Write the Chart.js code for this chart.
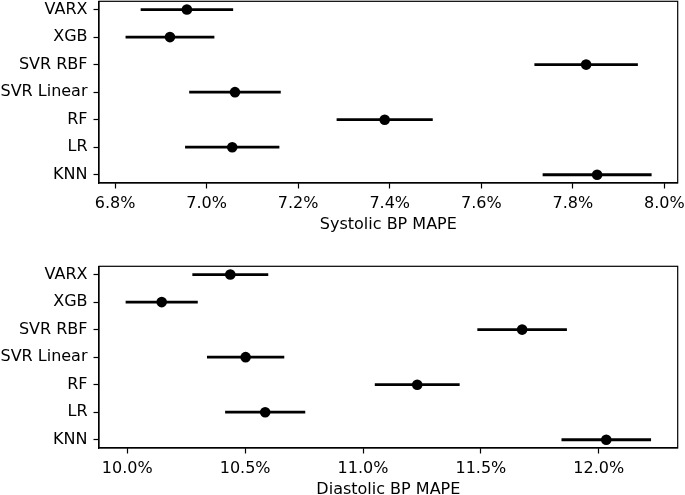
<!DOCTYPE html>
<html><head><meta charset="utf-8">
<script src="https://cdn.jsdelivr.net/npm/chart.js@4.4.1/dist/chart.umd.min.js"></script>
<style>
html,body{margin:0;padding:0;background:#fff;overflow:hidden;width:685px;height:495px;position:relative;}
.wrap{position:absolute;left:0;width:685px;height:250px;}
#w1{top:-4px;} #w2{top:261px;}
</style>
</head><body>
<div class="wrap" id="w1"><canvas id="c1"></canvas></div>
<div class="wrap" id="w2"><canvas id="c2"></canvas></div>
<script>
const categories = ['VARX','XGB','SVR RBF','SVR Linear','RF','LR','KNN'];
const systolicMAPE = [6.957, 6.920, 7.829, 7.062, 7.389, 7.056, 7.853];
const systolicErr  = [0.101, 0.097, 0.113, 0.100, 0.105, 0.103, 0.119];
const diastolicMAPE = [10.437, 10.146, 11.675, 10.502, 11.230, 10.585, 12.032];
const diastolicErr  = [0.161, 0.153, 0.190, 0.164, 0.180, 0.170, 0.190];
const systolicTicks = [6.8, 7.0, 7.2, 7.4, 7.6, 7.8, 8.0];
const diastolicTicks = [10.0, 10.5, 11.0, 11.5, 12.0];

const FONT = {family:'DejaVu Sans', size:16};

const frame = {
  id:'frame',
  afterDatasetsDraw(chart){
    const a = chart.chartArea, ctx = chart.ctx;
    ctx.save();
    ctx.strokeStyle = '#000';
    ctx.lineWidth = 1.2;
    ctx.strokeRect(a.left, a.top, a.right - a.left, a.bottom - a.top);
    ctx.restore();
  }
};

function makeChart(id, values, errs, ticks, xmin, xmax, title){
  const errSets = categories.map((c,i)=>({
    type:'scatter', showLine:true,
    data:[{x:values[i]-errs[i], y:i},{x:values[i]+errs[i], y:i}],
    borderColor:'#000', backgroundColor:'#000', borderWidth:2.8,
    pointRadius:0, pointHoverRadius:0, order:1
  }));
  const dots = {
    type:'scatter',
    data:categories.map((c,i)=>({x:values[i], y:i})),
    backgroundColor:'#000', borderColor:'#000',
    pointRadius:5.3, pointBorderWidth:0, pointHoverRadius:5.3, order:0
  };
  return new Chart(document.getElementById(id), {
    type:'scatter',
    data:{datasets:[dots, ...errSets]},
    options:{
      responsive:true, maintainAspectRatio:false, animation:false,
      events:[],
      layout:{padding:{left:0, right:7.3, top:1, bottom:0}},
      plugins:{legend:{display:false}, tooltip:{enabled:false}},
      scales:{
        x:{
          type:'linear', min:xmin, max:xmax,
          afterBuildTicks:s=>{ s.ticks = ticks.map(v=>({value:v})); },
          afterFit:s=>{ s.height = 63; s.paddingLeft = 0; s.paddingRight = 0; },
          ticks:{callback:v=>Number(v).toFixed(1)+'%', font:FONT, color:'#000', padding:5.5, maxRotation:0, autoSkip:false},
          grid:{display:true, drawOnChartArea:false, drawTicks:true, tickLength:5.5, tickColor:'#000', tickWidth:1.2},
          border:{display:true, color:'#000', width:1.2},
          title:{display:true, text:title, font:{family:'DejaVu Sans', size:16, lineHeight:1.2}, color:'#000', padding:{top:0, bottom:12}}
        },
        y:{
          type:'linear', reverse:true, min:-0.3, max:6.3,
          afterBuildTicks:s=>{ s.ticks = categories.map((c,i)=>({value:i})); },
          afterFit:s=>{ s.width = 99; s.paddingTop = 0; s.paddingBottom = 0; },
          ticks:{callback:v=>categories[v], font:FONT, color:'#000', padding:6, autoSkip:false},
          grid:{display:true, drawOnChartArea:false, drawTicks:true, tickLength:5.5, tickColor:'#000', tickWidth:1.2},
          border:{display:true, color:'#000', width:1.2}
        }
      }
    },
    plugins:[frame]
  });
}

makeChart('c1', systolicMAPE, systolicErr, systolicTicks, 6.765, 8.029, 'Systolic BP MAPE');
makeChart('c2', diastolicMAPE, diastolicErr, diastolicTicks, 9.880, 12.335, 'Diastolic BP MAPE');
</script>
</body></html>
